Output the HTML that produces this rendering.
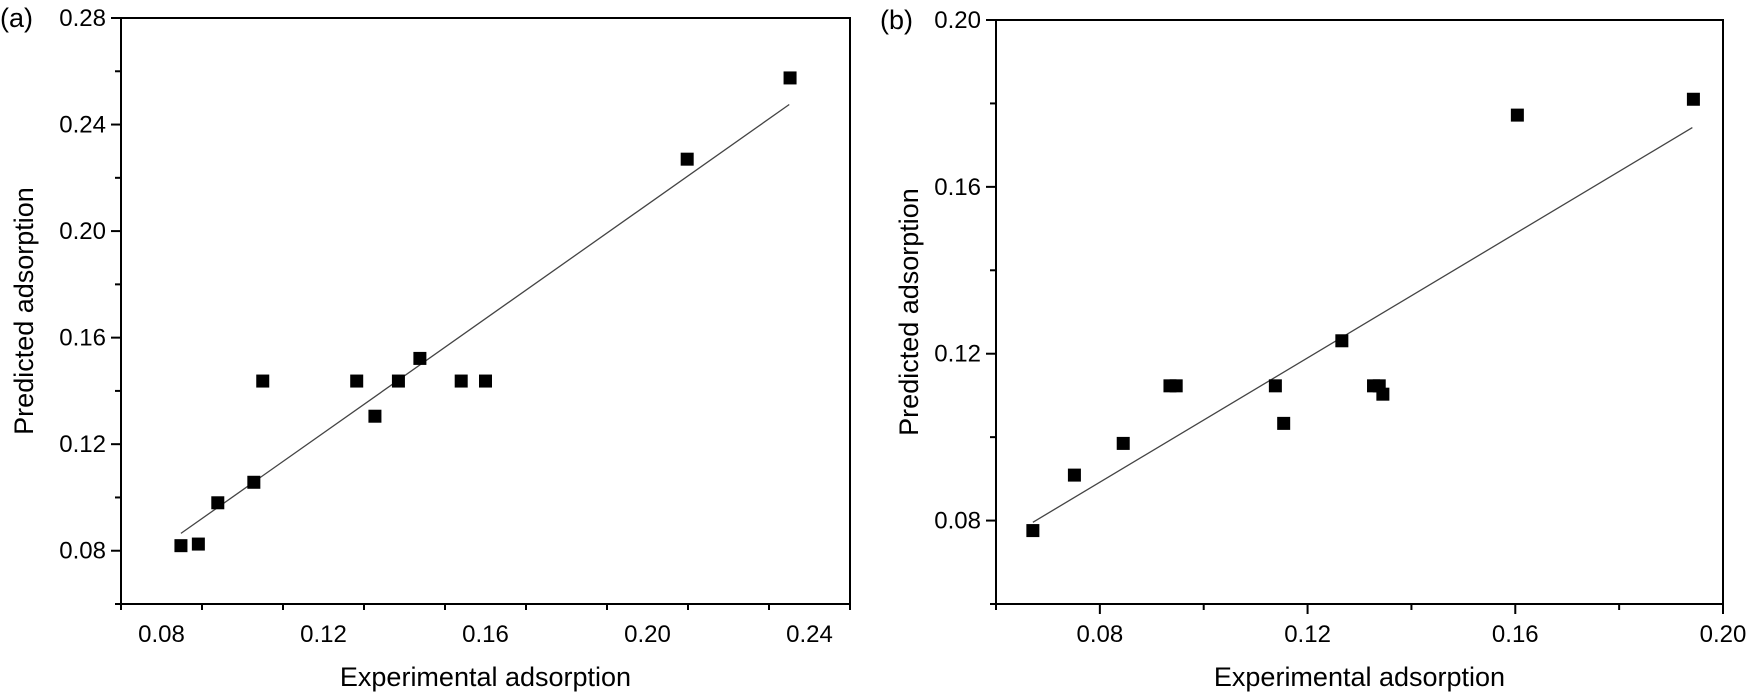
<!DOCTYPE html>
<html><head><meta charset="utf-8"><style>
html,body{margin:0;padding:0;background:#fff;}
svg{display:block;font-family:"Liberation Sans",Arial,sans-serif;}
</style></head><body>
<svg id="chart" width="1750" height="700" viewBox="0 0 1750 700" xmlns="http://www.w3.org/2000/svg"></svg>
<script>
// Panel (a) data
const aX = [0.0848,0.0891,0.0939,0.1028,0.1050,0.1282,0.1327,0.1385,0.1438,0.1540,0.1600,0.2098,0.2352];
const aY = [0.0819,0.0825,0.0980,0.1057,0.1437,0.1437,0.1305,0.1437,0.1522,0.1437,0.1437,0.2270,0.2575];
const aFit = [1.072,-0.0044];
const aFitRange = [0.0848,0.2350];
const aXTicks = [0.08,0.12,0.16,0.20,0.24];
const aYTicks = [0.08,0.12,0.16,0.20,0.24,0.28];
// Panel (b) data
const bX = [0.0671,0.0751,0.0845,0.0935,0.0947,0.1138,0.1154,0.1266,0.1327,0.1338,0.1345,0.1604,0.1943];
const bY = [0.0776,0.0909,0.0985,0.1123,0.1123,0.1123,0.1033,0.1231,0.1123,0.1123,0.1103,0.1772,0.1810];
const bFit = [0.745,0.0296];
const bFitRange = [0.0671,0.1941];
const bXTicks = [0.08,0.12,0.16,0.20];
const bYTicks = [0.08,0.12,0.16,0.20];

const NS = "http://www.w3.org/2000/svg";
const svg = document.getElementById('chart');
function mk(tag, attrs, parent){
  const e = document.createElementNS(NS, tag);
  for (const k in attrs) e.setAttribute(k, attrs[k]);
  (parent||svg).appendChild(e);
  return e;
}
function panel(id, box, xd, yd, xs, ys, fit, fr, xt, yt, letter, minorStep, labX, ytitleX){
  const g = mk('g', {});
  
  
  const sx = v => box.x0 + (v - xd[0]) / (xd[1] - xd[0]) * (box.x1 - box.x0);
  const sy = v => box.y1 - (v - yd[0]) / (yd[1] - yd[0]) * (box.y1 - box.y0);
  const frame = mk('rect', {x:box.x0, y:box.y0, width:box.x1-box.x0, height:box.y1-box.y0, fill:'none', stroke:'#000', 'stroke-width':2}, g);
  
  
  // minor ticks
  for (let v = xd[0]; v <= xd[1] + 1e-9; v += minorStep) {
    const isMajor = xt.some(t => Math.abs(t - v) < 1e-6);
    const x = sx(v);
    const t = mk('line', {x1:x, x2:x, y1:box.y1, y2:box.y1 + (isMajor ? 10 : 6), stroke:'#000', 'stroke-width':2}, g);
    
    
  }
  for (let v = yd[0]; v <= yd[1] + 1e-9; v += minorStep) {
    const isMajor = yt.some(t => Math.abs(t - v) < 1e-6);
    const y = sy(v);
    const t = mk('line', {x1:box.x0 - (isMajor ? 10 : 6), x2:box.x0, y1:y, y2:y, stroke:'#000', 'stroke-width':2}, g);
    
    
  }
  xt.forEach(v => {
    const t = mk('text', {x:sx(v), y:box.y1 + 38, 'text-anchor':'middle', 'font-size':24, fill:'#000'}, g);
    t.textContent = v.toFixed(2);
    
    
  });
  yt.forEach(v => {
    const t = mk('text', {x:box.x0 - 15, y:sy(v) + 8, 'text-anchor':'end', 'font-size':24, fill:'#000'}, g);
    t.textContent = v.toFixed(2);
    
    
  });
  const xtl = mk('text', {x:(box.x0 + box.x1)/2, y:box.y1 + 82, 'text-anchor':'middle', 'font-size':27, fill:'#000'}, g);
  xtl.textContent = 'Experimental adsorption';
  
  
  const cy = (box.y0 + box.y1)/2;
  const ytl = mk('text', {x:ytitleX, y:cy, 'text-anchor':'middle', 'font-size':27, fill:'#000', transform:'rotate(-90 ' + ytitleX + ' ' + cy + ')'}, g);
  ytl.textContent = 'Predicted adsorption';
  
  
  const pl = mk('text', {x:labX, y:box.y0 + 9, 'font-size':27, fill:'#000'}, g);
  pl.textContent = letter;
  
  
  const fl = mk('line', {x1:sx(fr[0]), y1:sy(fit[0]*fr[0] + fit[1]), x2:sx(fr[1]), y2:sy(fit[0]*fr[1] + fit[1]), stroke:'#444', 'stroke-width':1.3}, g);
  
  
  xs.forEach((v, i) => {
    const r = mk('rect', {x:sx(v) - 6.5, y:sy(ys[i]) - 6.5, width:13, height:13, fill:'#000'}, g);
    
    
  });
}
panel('a', {x0:121, x1:850, y0:18, y1:604}, [0.07,0.25], [0.06,0.28], aX, aY, aFit, aFitRange, aXTicks, aYTicks, '(a)', 0.02, 0, 33);
panel('b', {x0:996, x1:1723, y0:20, y1:604}, [0.06,0.20], [0.06,0.20], bX, bY, bFit, bFitRange, bXTicks, bYTicks, '(b)', 0.02, 880, 918);
</script>
</body></html>
